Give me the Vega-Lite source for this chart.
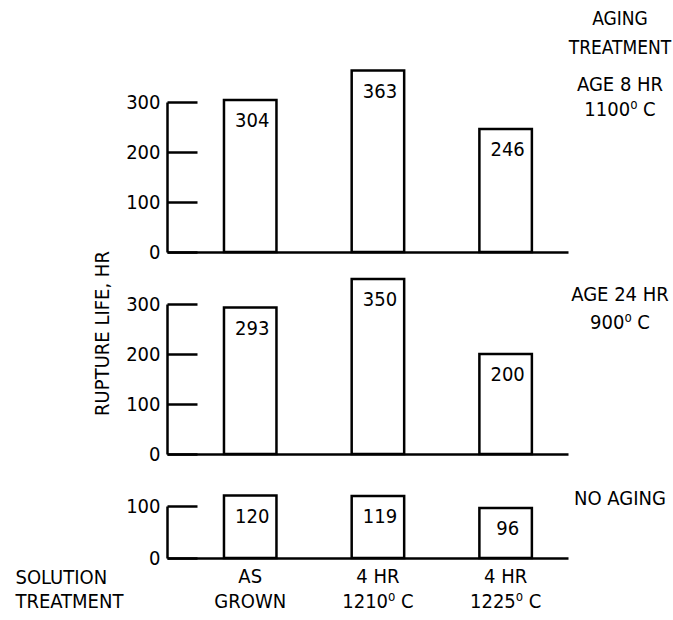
{
  "$schema": "https://vega.github.io/schema/vega-lite/v6.json",
  "autosize": {"type": "pad"},
  "padding": {"left": 15, "top": 10, "right": 5, "bottom": 5},
  "background": "white",
  "config": {
    "font": "DejaVu Sans Condensed, sans-serif",
    "view": {"stroke": null},
    "axis": {
      "labelFont": "DejaVu Sans Condensed, sans-serif",
      "labelFontSize": 20,
      "labelColor": "black",
      "domainColor": "black",
      "domainWidth": 2.5,
      "tickColor": "black",
      "tickWidth": 2.5,
      "grid": false,
      "titleFont": "DejaVu Sans Condensed, sans-serif",
      "titleFontSize": 20,
      "titleFontWeight": "normal",
      "titleColor": "black"
    },
    "title": {
      "font": "DejaVu Sans Condensed, sans-serif",
      "fontSize": 20,
      "fontWeight": "normal",
      "color": "black",
      "subtitleFont": "DejaVu Sans Condensed, sans-serif",
      "subtitleFontSize": 20,
      "subtitleColor": "black",
      "offset": 0
    }
  },
  "data": {
    "values": [
      {"aging": "AGE 8 HR 1100⁰ C", "solution": "AS GROWN", "life": 304},
      {"aging": "AGE 8 HR 1100⁰ C", "solution": "4 HR 1210⁰ C", "life": 363},
      {"aging": "AGE 8 HR 1100⁰ C", "solution": "4 HR 1225⁰ C", "life": 246},
      {"aging": "AGE 24 HR 900⁰ C", "solution": "AS GROWN", "life": 293},
      {"aging": "AGE 24 HR 900⁰ C", "solution": "4 HR 1210⁰ C", "life": 350},
      {"aging": "AGE 24 HR 900⁰ C", "solution": "4 HR 1225⁰ C", "life": 200},
      {"aging": "NO AGING", "solution": "AS GROWN", "life": 120},
      {"aging": "NO AGING", "solution": "4 HR 1210⁰ C", "life": 119},
      {"aging": "NO AGING", "solution": "4 HR 1225⁰ C", "life": 96}
    ]
  },
  "spacing": 52,
  "bounds": "flush",
  "vconcat": [
    {
      "width": 401,
      "height": 150,
      "title": {"text": ["AGING", "TREATMENT"], "fontSize": 19, "lineHeight": 29,
                "subtitle": ["AGE 8 HR", "1100⁰ C"], "subtitleLineHeight": 25, "subtitlePadding": 17,
                "anchor": "end", "align": "center", "frame": "group", "baseline": "top", "offset": 0, "dx": 52, "dy": 51},
      "transform": [{"filter": "datum.aging == 'AGE 8 HR 1100⁰ C'"}],
      "encoding": {
        "x": {"field": "solution", "type": "nominal", "sort": ["AS GROWN", "4 HR 1210⁰ C", "4 HR 1225⁰ C"],
              "scale": {"paddingInner": 0.589, "paddingOuter": 0.3645, "align": 0.612},
              "axis": {"labels": false, "ticks": false, "title": null, "domain": true}},
        "y": {"field": "life", "type": "quantitative", "scale": {"domain": [0, 300], "nice": false},
              "axis": {"values": [0, 100, 200, 300], "tickSize": -30, "labelPadding": 37, "labelBaseline": "middle", "title": null}}
      },
      "layer": [
        {"mark": {"type": "bar", "fill": "white", "stroke": "black", "strokeWidth": 2.5}},
        {"mark": {"type": "text", "baseline": "middle", "dy": 21, "dx": 2, "fontSize": 20, "color": "black"},
         "encoding": {"text": {"field": "life", "type": "quantitative"}}}
      ]
    },
    {
      "width": 401,
      "height": 150,
      "title": {"text": ["AGE 24 HR", "900⁰ C"], "lineHeight": 28,
                "anchor": "end", "align": "center", "frame": "group", "baseline": "top", "offset": 0, "dx": 52, "dy": 82},
      "transform": [{"filter": "datum.aging == 'AGE 24 HR 900⁰ C'"}],
      "encoding": {
        "x": {"field": "solution", "type": "nominal", "sort": ["AS GROWN", "4 HR 1210⁰ C", "4 HR 1225⁰ C"],
              "scale": {"paddingInner": 0.589, "paddingOuter": 0.3645, "align": 0.612},
              "axis": {"labels": false, "ticks": false, "title": null, "domain": true}},
        "y": {"field": "life", "type": "quantitative", "scale": {"domain": [0, 300], "nice": false},
              "axis": {"values": [0, 100, 200, 300], "tickSize": -30, "labelPadding": 37, "labelBaseline": "middle",
                       "title": "RUPTURE LIFE, HR", "titleX": -65, "titleY": 29, "titleAlign": "center", "titleBaseline": "middle", "titleAngle": -90}}
      },
      "layer": [
        {"mark": {"type": "bar", "fill": "white", "stroke": "black", "strokeWidth": 2.5}},
        {"mark": {"type": "text", "baseline": "middle", "dy": 21, "dx": 2, "fontSize": 20, "color": "black"},
         "encoding": {"text": {"field": "life", "type": "quantitative"}}}
      ]
    },
    {
      "width": 401,
      "height": 52,
      "title": {"text": "NO AGING",
                "anchor": "end", "align": "center", "frame": "group", "baseline": "top", "offset": 0, "dx": 52, "dy": 15},
      "transform": [{"filter": "datum.aging == 'NO AGING'"}],
      "encoding": {
        "x": {"field": "solution", "type": "nominal", "sort": ["AS GROWN", "4 HR 1210⁰ C", "4 HR 1225⁰ C"],
              "scale": {"paddingInner": 0.589, "paddingOuter": 0.3645, "align": 0.612},
              "axis": {"labels": true, "ticks": false, "domain": true, "labelAngle": 0, "labelPadding": 8, "labelLineHeight": 25,
                       "labelExpr": "datum.label == 'AS GROWN' ? ['AS', 'GROWN'] : ['4 HR', substring(datum.label, 5)]",
                       "title": ["SOLUTION", "TREATMENT"], "titleX": -152, "titleY": 9, "titleAlign": "left", "titleBaseline": "top", "titleLineHeight": 24, "titleAngle": 0}},
        "y": {"field": "life", "type": "quantitative", "scale": {"domain": [0, 100], "nice": false},
              "axis": {"values": [0, 100], "tickSize": -30, "labelPadding": 37, "labelBaseline": "middle", "title": null}}
      },
      "layer": [
        {"mark": {"type": "bar", "fill": "white", "stroke": "black", "strokeWidth": 2.5}},
        {"mark": {"type": "text", "baseline": "middle", "dy": 21, "dx": 2, "fontSize": 20, "color": "black"},
         "encoding": {"text": {"field": "life", "type": "quantitative"}}}
      ]
    }
  ]
}
